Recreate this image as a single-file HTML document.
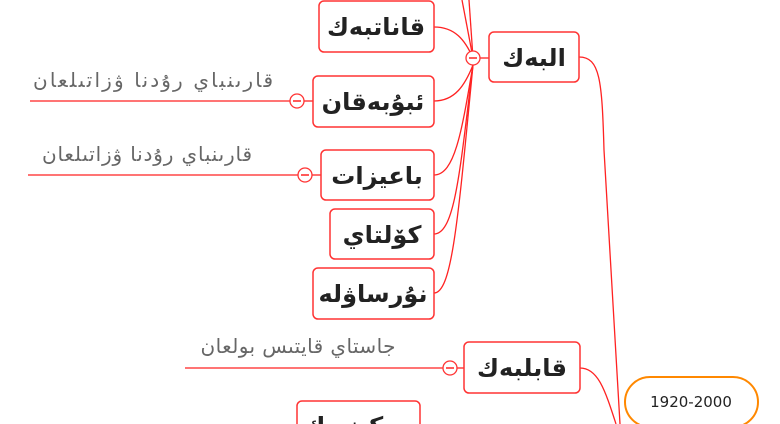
<!DOCTYPE html>
<html><head><meta charset="utf-8"><style>
html,body{margin:0;padding:0;background:#fff;width:780px;height:424px;overflow:hidden}
svg{display:block;overflow:hidden}
.n{fill:#fff;stroke:#f33;stroke-width:1.5}
.l{fill:none;stroke:#f22;stroke-width:1.3}
.t{font-family:"DejaVu Sans","Liberation Sans",sans-serif;font-size:24px;fill:#222;text-anchor:middle;font-weight:bold}
.g{font-family:"DejaVu Sans","Liberation Sans",sans-serif;font-size:20px;fill:#666;text-anchor:middle}
</style></head><body>
<svg width="780" height="424" viewBox="0 0 780 424">
<path class="l" d="M462,0 L473,58"/>
<path class="l" d="M469,0 L473,58"/>
<path class="l" d="M434,27 C455,27 465,40 473,58"/>
<path class="l" d="M434,101 C455,101 465,85 473,65"/>
<path class="l" d="M434,175 C455,175 462,130 473,65"/>
<path class="l" d="M434,234 C455,234 460,170 473,65"/>
<path class="l" d="M434,293 C452,293 458,220 473,65"/>
<path class="l" d="M480,58 L489,58"/>
<path class="l" d="M579,57 C600,57 602,80 604,150 L620,424"/>
<path class="l" d="M580,368 C598,368 605,390 616,424"/>
<path class="l" d="M30,101 L290,101"/><path class="l" d="M304,101 L313,101"/>
<path class="l" d="M28,175 L298,175"/><path class="l" d="M312,175 L321,175"/>
<path class="l" d="M185,368 L443,368"/><path class="l" d="M457,368 L464,368"/>
<g fill="#fff" stroke="#f33" stroke-width="1.3">
<circle cx="473" cy="58" r="7"/><circle cx="297" cy="101" r="7"/>
<circle cx="305" cy="175" r="7"/><circle cx="450" cy="368" r="7"/>
</g>
<g stroke="#f22" stroke-width="1.5">
<line x1="469" y1="58" x2="477" y2="58"/><line x1="293" y1="101" x2="301" y2="101"/>
<line x1="301" y1="175" x2="309" y2="175"/><line x1="446" y1="368" x2="454" y2="368"/>
</g>
<rect class="n" x="319" y="1" width="115" height="51" rx="5"/>
<text class="t" x="376" y="35" direction="rtl">قاناتبەك</text>
<rect class="n" x="489" y="32" width="90" height="50" rx="5"/>
<text class="t" x="534" y="66" direction="rtl">البەك</text>
<rect class="n" x="313" y="76" width="121" height="51" rx="5"/>
<text class="t" x="373" y="110" direction="rtl">ئبۇبەقان</text>
<rect class="n" x="321" y="150" width="113" height="50" rx="5"/>
<text class="t" x="377" y="184" direction="rtl">باعيزات</text>
<rect class="n" x="330" y="209" width="104" height="50" rx="5"/>
<text class="t" x="382" y="243" direction="rtl">كۆلتاي</text>
<rect class="n" x="313" y="268" width="121" height="51" rx="5"/>
<text class="t" x="373" y="302" direction="rtl">نۇرساۋلە</text>
<rect class="n" x="464" y="342" width="116" height="51" rx="5"/>
<text class="t" x="522" y="376" direction="rtl">قابلبەك</text>
<rect class="n" x="297" y="401" width="123" height="40" rx="5"/>
<text class="t" x="358" y="434" direction="rtl">مەكىنبەك</text>
<rect x="625" y="377" width="133" height="50" rx="25" fill="#fff" stroke="#f80" stroke-width="2"/>
<text x="691" y="407" font-family="DejaVu Sans,Liberation Sans,sans-serif" font-size="15" fill="#222" text-anchor="middle">1920-2000</text>
<text class="g" x="153" y="87" direction="rtl" textLength="240" lengthAdjust="spacing">قارىنباي رۇدنا ۋزاتىلعان</text>
<text class="g" x="147" y="161" direction="rtl" textLength="210" lengthAdjust="spacing">قارىنباي رۇدنا ۋزاتىلعان</text>
<text class="g" x="298" y="353" direction="rtl" textLength="195" lengthAdjust="spacing">جاستاي قايتىس بولعان</text>
</svg>
</body></html>
